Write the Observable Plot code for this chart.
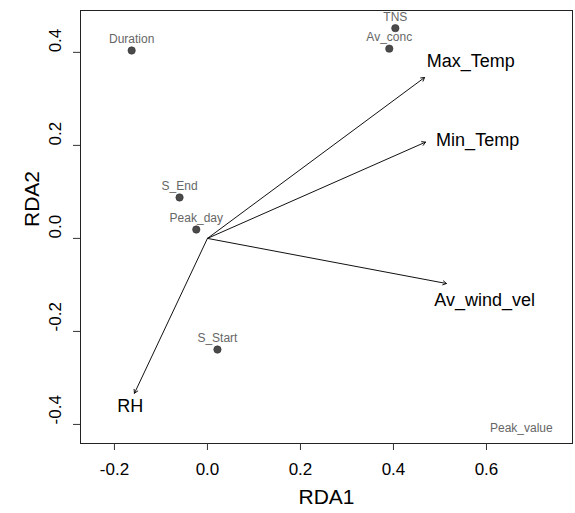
<!DOCTYPE html>
<html>
<head>
<meta charset="utf-8">
<script src="https://cdn.jsdelivr.net/npm/d3@7"></script>
<script src="https://cdn.jsdelivr.net/npm/@observablehq/plot@0.6"></script>
<style>
  html, body { margin: 0; padding: 0; background: #fff; }
  #chart svg { display: block; }
</style>
</head>
<body>
<div id="chart"></div>
<script>
// Site/response scores (gray points with labels)
const speciesNames = ["Duration", "S_End", "Peak_day", "TNS", "Av_conc", "S_Start"];
const speciesRDA1  = [-0.163, -0.060, -0.024, 0.404, 0.391, 0.0215];
const speciesRDA2  = [ 0.404,  0.088,  0.019, 0.452, 0.408, -0.239];

// Label without a visible point
const labelOnlyNames = ["Peak_value"];
const labelOnlyRDA1  = [0.675];
const labelOnlyRDA2  = [-0.409];

// Environmental vectors (arrows from origin) and their label positions
const envNames    = ["Max_Temp", "Min_Temp", "Av_wind_vel", "RH"];
const envRDA1     = [0.467, 0.469, 0.514, -0.157];
const envRDA2     = [0.346, 0.207, -0.097, -0.333];
const envLabRDA1  = [0.566, 0.581, 0.596, -0.166];
const envLabRDA2  = [0.380, 0.210, -0.133, -0.360];

// Axis ticks
const xTicks = [-0.2, 0.0, 0.2, 0.4, 0.6];
const yTicks = [-0.4, -0.2, 0.0, 0.2, 0.4];

const species = speciesNames.map((n, i) => ({name: n, x: speciesRDA1[i], y: speciesRDA2[i]}));
const labelOnly = labelOnlyNames.map((n, i) => ({name: n, x: labelOnlyRDA1[i], y: labelOnlyRDA2[i]}));
const env = envNames.map((n, i) => ({name: n, x: envRDA1[i], y: envRDA2[i], lx: envLabRDA1[i], ly: envLabRDA2[i]}));

const font = "'Liberation Sans', Arial, Helvetica, sans-serif";

const chart = Plot.plot({
  width: 575,
  height: 513,
  marginLeft: 80,
  marginRight: 3,
  marginTop: 10,
  marginBottom: 70,
  style: {fontFamily: font, background: "#fff", color: "#000"},
  x: {domain: [-0.273, 0.785], axis: null},
  y: {domain: [-0.441, 0.490], axis: null},
  marks: [
    Plot.frame({stroke: "#222", strokeWidth: 1}),
    Plot.axisX(xTicks, {tickSize: 7, tickPadding: 12, fontSize: 17, tickFormat: d => d.toFixed(1).replace("-0.0", "0.0"), label: null, stroke: "#333"}),
    Plot.axisY(yTicks, {tickSize: 7, tickFormat: () => "", label: null, stroke: "#333"}),
    Plot.text(yTicks, {y: d => d, frameAnchor: "left", dx: -25, rotate: -90, text: d => d.toFixed(1), fontSize: 17, fill: "#000"}),
    Plot.text(["RDA1"], {frameAnchor: "bottom", dy: 60, text: d => d, fontSize: 21, fill: "#000"}),
    Plot.text(["RDA2"], {frameAnchor: "left", dx: -48, rotate: -90, text: d => d, fontSize: 21, fill: "#000"}),
    Plot.arrow(env, {x1: () => 0, y1: () => 0, x2: "x", y2: "y", stroke: "#111", strokeWidth: 1, headLength: 6}),
    Plot.text(env, {x: "lx", y: "ly", text: "name", fontSize: 18, fill: "#000"}),
    Plot.dot(species, {x: "x", y: "y", r: 3.7, fill: "#4a4a4a", stroke: "#333", strokeWidth: 0.6}),
    Plot.text(species, {x: "x", y: "y", dy: -11, text: "name", fontSize: 12, fill: "#666"}),
    Plot.text(labelOnly, {x: "x", y: "y", text: "name", fontSize: 12, fill: "#666"})
  ]
});
document.getElementById("chart").appendChild(chart);
</script>
</body>
</html>
